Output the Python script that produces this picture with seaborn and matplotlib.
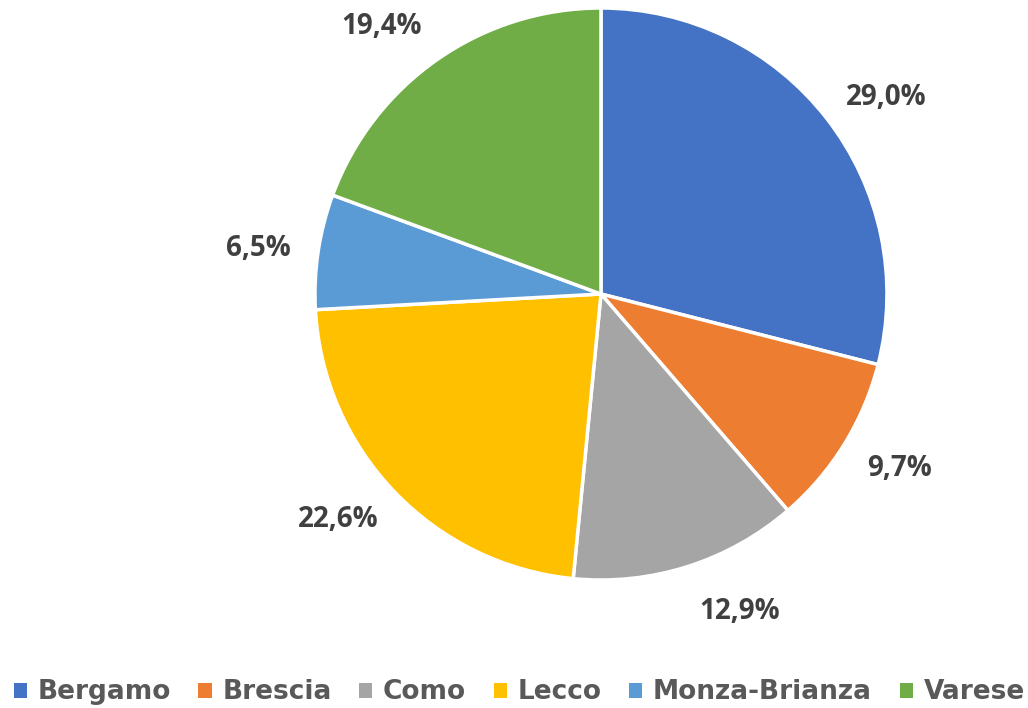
import matplotlib
matplotlib.use("Agg")
import numpy as np
import matplotlib.pyplot as plt
import seaborn as sns
from matplotlib.patches import Patch

# dati
province = ["Bergamo", "Brescia", "Como", "Lecco", "Monza-Brianza", "Varese"]
quote = [29.0, 9.7, 12.9, 22.6, 6.5, 19.4]
colori = ["#4472C4", "#ED7D31", "#A5A5A5", "#FFC000", "#5B9BD5", "#70AD47"]

sns.set_theme(style="white")
plt.rcParams['font.family'] = ['DejaVu Sans']

fig = plt.figure(figsize=(10.28, 7.08), dpi=100)
ax = fig.add_axes([0.3064, 0.1808, 0.5564, 0.8079])

wedges, _ = ax.pie(
    quote,
    colors=colori,
    startangle=90,
    counterclock=False,
    wedgeprops=dict(edgecolor="white", linewidth=2.5),
)

# etichette "fuori" come in Excel (piccoli spostamenti angolari)
spost = [-3.3, 1.5, 6.0, -3.1, 1.0, 4.4]
for w, v, d in zip(wedges, quote, spost):
    ang = np.deg2rad((w.theta1 + w.theta2) / 2 + d)
    ax.text(1.21 * np.cos(ang), 1.21 * np.sin(ang), f"{v:.1f}%".replace(".", ","),
            ha="center", va="center", color="#404040", fontsize=20, fontweight="bold",
            family=['Open Sans', 'DejaVu Sans'])

ax.set_xlim(-1, 1)
ax.set_ylim(-1, 1)
ax.set_aspect("auto")
ax.axis("off")

handles = [Patch(facecolor=c, edgecolor="none") for c in colori]
fig.legend(handles, province, loc="lower center", bbox_to_anchor=(0.505, -0.03),
           ncol=6, frameon=False, handlelength=0.5, handleheight=0.5,
           handletextpad=0.4, columnspacing=1.05,
           prop=dict(size=19, weight="bold"), labelcolor="#595959")

fig.savefig("out.png", dpi=100)
